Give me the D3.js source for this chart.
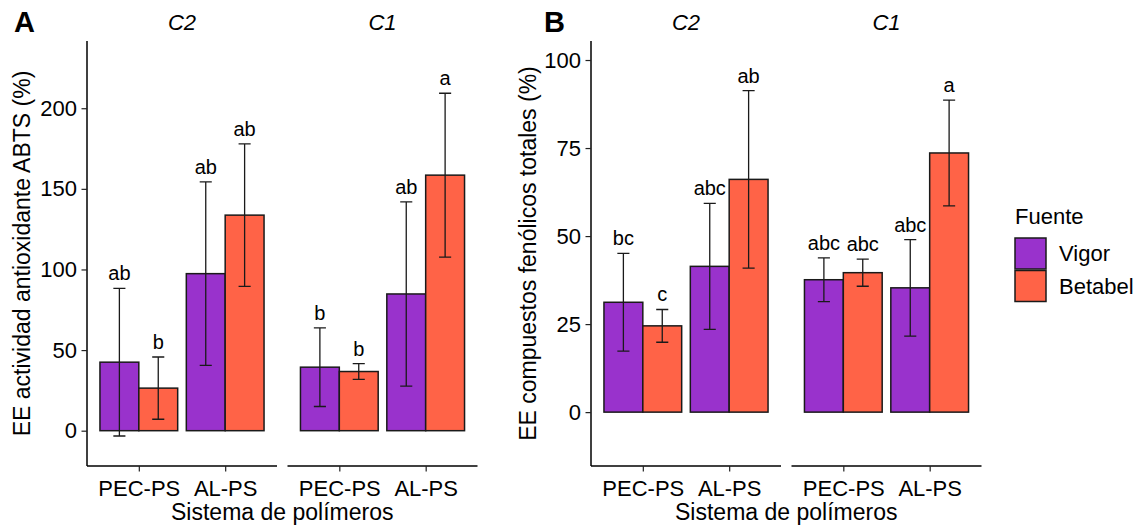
<!DOCTYPE html>
<html><head><meta charset="utf-8">
<script src="https://cdn.jsdelivr.net/npm/d3@7"></script>
<style>body{margin:0;background:#fff}svg{display:block}text{font-family:"Liberation Sans",Arial,sans-serif;fill:#000}</style>
</head><body><svg id="c" width="1141" height="529"></svg>
<script>
const facets = ["C2", "C1"];
const systems = ["PEC-PS", "AL-PS"];
const sources = ["Vigor", "Betabel"];
const colors = ["#9932CC", "#FF6347"];
// order: facet, system, source
const meanA = [42.5, 26.4, 97.4, 133.7, 39.4, 36.7, 84.8, 158.5];
const sdA   = [45.8, 19.3, 56.9, 44.2, 24.4, 4.9, 57.1, 50.8];
const letA  = ["ab","b","ab","ab","b","b","ab","a"];
const meanB = [31.2, 24.5, 41.4, 66.1, 37.6, 39.6, 35.3, 73.6];
const sdB   = [13.9, 4.65, 17.9, 25.2, 6.2, 3.85, 13.7, 15.0];
const letB  = ["bc","c","abc","ab","abc","abc","abc","a"];
const ticksA = [0, 50, 100, 150, 200];
const ticksB = [0, 25, 50, 75, 100];

const svg = d3.select("#c");

function panel(opt){
  const g = svg.append("g");
  const y = d3.scaleLinear().domain(opt.domain).range([466, 41]);
  const fw = 190, gap = 10.5;
  // y axis
  const ya = g.append("g").attr("transform",`translate(${opt.x0},0)`)
    .call(d3.axisLeft(y).tickValues(opt.ticks).tickSize(5.5).tickPadding(4.5));
  ya.select(".domain").attr("stroke","#000").attr("stroke-width",1.5).attr("d",`M0,41V466`);
  ya.selectAll(".tick line").attr("stroke","#222").attr("stroke-width",1.2);
  ya.selectAll(".tick text").attr("font-size",22).attr("font-family","Liberation Sans, Arial, sans-serif").attr("fill","#000");
  // y title
  g.append("text").attr("transform",`translate(${opt.x0-opt.titleOff},253.5) rotate(-90)`)
    .attr("text-anchor","middle").attr("dy","0.35em").attr("font-size",23).text(opt.ytitle);
  // panel label
  g.append("text").attr("x",opt.labX).attr("y",31.5).attr("font-size",29).attr("font-weight","bold").text(opt.label);
  facets.forEach((f,fi)=>{
    const xs = opt.x0 + fi*(fw+gap);
    const x = d3.scalePoint().domain(systems).range([xs, xs+fw]).padding(0.6);
    const step = x.step();
    const xs2 = d3.scaleBand().domain(sources).range([-0.45*step, 0.45*step]);
    const fg = g.append("g");
    // strip
    fg.append("text").attr("x",xs+fw/2).attr("y",29.5).attr("text-anchor","middle")
      .attr("font-size",22).attr("font-style","italic").text(f);
    // x axis
    const xa = fg.append("g").attr("transform","translate(0,466)")
      .call(d3.axisBottom(x).tickSize(5.5).tickPadding(4));
    xa.select(".domain").attr("stroke","#000").attr("stroke-width",1.5).attr("d",`M${xs},0H${xs+fw}`);
    xa.selectAll(".tick line").attr("stroke","#222").attr("stroke-width",1.2);
    xa.selectAll(".tick text").attr("font-size",22).attr("font-family","Liberation Sans, Arial, sans-serif").attr("fill","#000").attr("dy","0.95em");
    const rows = [];
    systems.forEach((s,si)=>sources.forEach((src,ki)=>{
      const i = fi*4 + si*2 + ki;
      rows.push({s, src, ki, m: opt.mean[i], sd: opt.sd[i], l: opt.let[i]});
    }));
    fg.selectAll("rect.bar").data(rows).join("rect").attr("class","bar")
      .attr("x",d=>x(d.s)+xs2(d.src)).attr("width",xs2.bandwidth())
      .attr("y",d=>y(d.m)).attr("height",d=>y(0)-y(d.m))
      .attr("fill",d=>colors[d.ki]).attr("stroke","#1a1a1a").attr("stroke-width",1.5);
    const ww = 0.07*step;
    const eb = fg.selectAll("g.eb").data(rows).join("g").attr("class","eb")
      .attr("transform",d=>`translate(${x(d.s)+xs2(d.src)+xs2.bandwidth()/2},0)`);
    eb.append("path").attr("fill","none").attr("stroke","#1a1a1a").attr("stroke-width",1.3)
      .attr("d",d=>`M${-ww},${y(d.m+d.sd)}H${ww}M0,${y(d.m+d.sd)}V${y(d.m-d.sd)}M${-ww},${y(d.m-d.sd)}H${ww}`);
    eb.append("text").attr("text-anchor","middle").attr("y",d=>y(d.m+d.sd)-8)
      .attr("font-size",20).text(d=>d.l);
  });
  // x title
  g.append("text").attr("x",opt.x0+(2*fw+gap)/2).attr("y",520).attr("text-anchor","middle")
    .attr("font-size",23).text("Sistema de polímeros");
}

panel({x0:87, domain:[-21.9, 241.7], ticks:ticksA, mean:meanA, sd:sdA, let:letA,
  ytitle:"EE actividad antioxidante ABTS (%)", titleOff:65, label:"A", labX:14});
panel({x0:591, domain:[-15.3, 105.4], ticks:ticksB, mean:meanB, sd:sdB, let:letB,
  ytitle:"EE compuestos fenólicos totales (%)", titleOff:63, label:"B", labX:544});

// legend
const lg = svg.append("g");
lg.append("text").attr("x",1015).attr("y",224).attr("font-size",22).text("Fuente");
sources.forEach((s,i)=>{
  lg.append("rect").attr("x",1015).attr("y",238+i*32.5).attr("width",31).attr("height",31)
    .attr("fill",colors[i]).attr("stroke","#1a1a1a").attr("stroke-width",1.5);
  lg.append("text").attr("x",1059).attr("y",253.5+i*32.5).attr("dy","0.35em").attr("font-size",22).text(s);
});
</script></body></html>
